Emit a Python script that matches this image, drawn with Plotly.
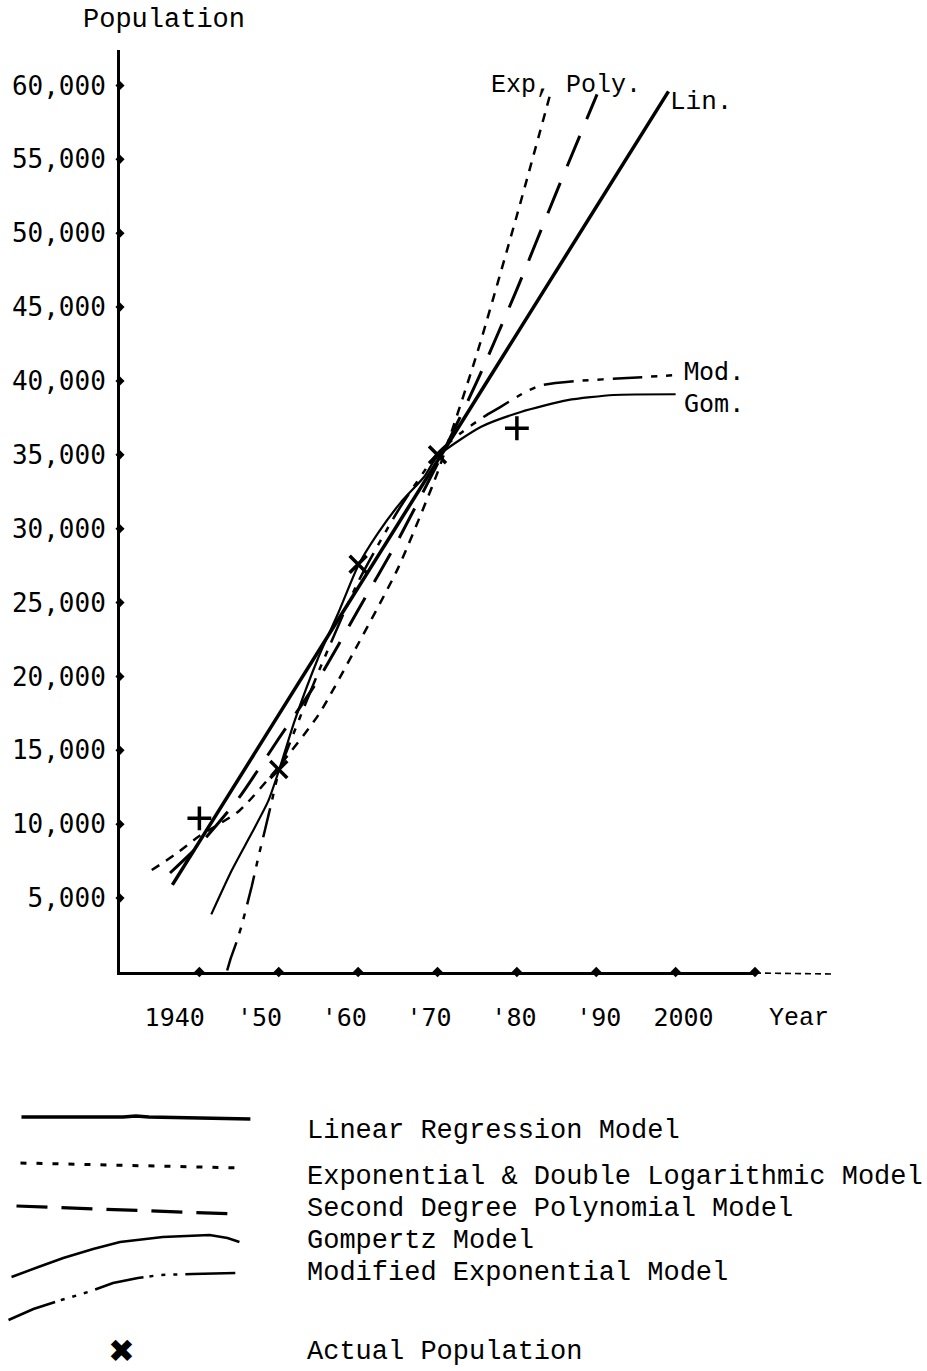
import plotly.graph_objects as go

# ---------------- data ----------------
actual_years = [1940, 1950, 1960, 1970, 1980]
actual_pop = [10400, 13700, 27600, 35000, 36800]

lin_years = [1936.6, 1999.1]
lin_pop = [5900, 59600]

exp_years = [1934.0, 1936.8, 1940, 1945, 1950, 1955, 1960, 1965, 1970, 1975, 1980, 1984.2]
exp_pop = [6900, 7900, 9200, 10900, 13900, 17400, 22200, 27300, 33800, 41900, 51200, 59400]

poly_years = [1936.3, 1940, 1945, 1950, 1955, 1960, 1965, 1970, 1975, 1980, 1985, 1990.1]
poly_pop = [6700, 8600, 11800, 15800, 19800, 24500, 29200, 34400, 40000, 46200, 52800, 59400]

gom_years = [1941.5, 1944.1, 1946.6, 1948.7, 1950, 1952, 1955, 1957.5, 1960, 1962.5,
             1965.4, 1968.3, 1970, 1975.5, 1980.5, 1986.4, 1992.2, 2000]
gom_pop = [3900, 6900, 9400, 11600, 13600, 17000, 21300, 24300, 27500, 29700,
           31800, 33500, 34900, 36900, 37900, 38700, 39050, 39100]

mod_years = [1943.5, 1944.0, 1944.6, 1945.3, 1946.6, 1947.4, 1948.3, 1949.1, 1950, 1955,
             1960, 1965, 1970, 1973, 1975.9, 1977.8, 1980.9, 1983, 1987.6, 1993.9, 2000.2]
mod_pop = [100, 1000, 1900, 3100, 5800, 7700, 9700, 11500, 13500, 20300,
           26400, 31200, 35100, 36500, 37600, 38200, 39200, 39700, 40000, 40200, 40400]

x_tick_vals = [1940, 1950, 1960, 1970, 1980, 1990, 2000]
x_tick_text = ["1940", "'50", "'60", "'70", "'80", "'90", "2000"]
x_dot_vals = [1940, 1950, 1960, 1970, 1980, 1990, 2000, 2010]
y_tick_vals = [5000, 10000, 15000, 20000, 25000, 30000, 35000, 40000, 45000, 50000, 55000, 60000]
y_tick_text = ["5,000", "10,000", "15,000", "20,000", "25,000", "30,000",
               "35,000", "40,000", "45,000", "50,000", "55,000", "60,000"]

legend_labels = ["Linear Regression Model",
                 "Exponential & Double Logarithmic Model",
                 "Second Degree Polynomial Model",
                 "Gompertz Model",
                 "Modified Exponential Model",
                 "Actual Population"]

# ---------------- styles ----------------
marker_symbols = ["cross-thin", "x-thin", "x-thin", "x-thin", "cross-thin"]
MONO_SERIF = "Liberation Mono, Courier New, monospace"
MONO_SANS = "DejaVu Sans Mono, monospace"
BLACK = "black"

# plot area in pixels
L, R, T, B = 117, 755, 50, 972
FIG_W, FIG_H = 927, 1371
# the typed year labels under the axis are spaced a little wider than the ticks
LABEL_AXIS_RANGE = [1933.55, 2008.43]


def pxx(x):
    return (x - L) / (R - L)


def pxy(y):
    return (B - y) / (B - T)


fig = go.Figure()

fig.add_trace(go.Scatter(x=exp_years, y=exp_pop, mode="lines",
                         line=dict(color=BLACK, width=2.5, dash="9px,8px", shape="spline", smoothing=0.6)))
fig.add_trace(go.Scatter(x=poly_years, y=poly_pop, mode="lines",
                         line=dict(color=BLACK, width=3, dash="33px,18px", shape="spline", smoothing=0.6)))
fig.add_trace(go.Scatter(x=mod_years, y=mod_pop, mode="lines",
                         line=dict(color=BLACK, width=2.5, dash="30px,9px,6px,9px,6px,9px",
                                   shape="spline", smoothing=0.6)))
fig.add_trace(go.Scatter(x=gom_years, y=gom_pop, mode="lines",
                         line=dict(color=BLACK, width=2.2, shape="spline", smoothing=0.6)))
fig.add_trace(go.Scatter(x=lin_years, y=lin_pop, mode="lines",
                         line=dict(color=BLACK, width=3.5)))
fig.add_trace(go.Scatter(x=actual_years, y=actual_pop, mode="markers",
                         marker=dict(symbol=marker_symbols, size=17, color=BLACK,
                                     line=dict(color=BLACK, width=3.5))))

# axis tick dots
fig.add_trace(go.Scatter(x=x_dot_vals, y=[0] * len(x_dot_vals), mode="markers", cliponaxis=False,
                         marker=dict(symbol="diamond", size=8, color=BLACK)))
fig.add_trace(go.Scatter(x=[1930] * len(y_tick_vals), y=y_tick_vals, mode="markers", cliponaxis=False,
                         marker=dict(symbol="diamond", size=7, color=BLACK)))
# invisible carrier so that the label axis (x2) is drawn
fig.add_trace(go.Scatter(x=x_tick_vals, y=[0] * len(x_tick_vals), xaxis="x2", yaxis="y",
                         mode="markers", marker=dict(opacity=0), hoverinfo="skip"))

shapes = []
# dashed continuation of the x axis
shapes.append(dict(type="line", xref="paper", yref="paper", x0=1.0, x1=pxx(835), y0=pxy(973), y1=pxy(974),
                   line=dict(color=BLACK, width=1.6, dash="6px,4px")))


def path_from(points):
    return "M " + " L ".join(f"{pxx(a):.5f},{pxy(b):.5f}" for a, b in points)


legend_samples = [
    ([(18, 1117), (120, 1117), (133, 1116), (146, 1117), (248, 1119)], 3.4, "solid"),
    ([(17, 1163), (242, 1168)], 3, "6px,10px"),
    ([(13, 1206), (233, 1214)], 3.2, "31px,14px"),
    ([(8, 1277), (35, 1267), (60, 1258), (90, 1249), (117, 1242), (160, 1237),
      (207, 1235), (225, 1238), (237, 1242)], 2.5, "solid"),
    ([(5, 1320), (30, 1309), (58, 1300), (85, 1292), (110, 1283), (135, 1278),
      (157, 1275), (190, 1274), (233, 1273)], 2.5, "50px,6px,4px,8px,4px,8px,4px,8px"),
]
for pts, w, d in legend_samples:
    shapes.append(dict(type="path", xref="paper", yref="paper", path=path_from(pts),
                       line=dict(color=BLACK, width=w, dash=d)))

annotations = []
legend_text_y = [1131, 1177, 1209, 1241, 1273, 1352]
for lbl, yy in zip(legend_labels, legend_text_y):
    annotations.append(dict(text=lbl, xref="paper", yref="paper", x=pxx(303), y=pxy(yy),
                            xanchor="left", yanchor="middle", showarrow=False,
                            font=dict(family=MONO_SERIF, size=27, color=BLACK)))
annotations.append(dict(text="✖", xref="paper", yref="paper", x=pxx(119), y=pxy(1351),
                        xanchor="center", yanchor="middle", showarrow=False,
                        font=dict(family="DejaVu Sans", size=32, color=BLACK)))

# curve labels and axis titles
annotations += [
    dict(text="Exp, Poly.", x=pxx(565), y=pxy(86), xref="paper", yref="paper", showarrow=False,
         xanchor="center", yanchor="middle", font=dict(family=MONO_SERIF, size=25, color=BLACK)),
    dict(text="Lin.", x=pxx(668), y=pxy(102), xref="paper", yref="paper", showarrow=False,
         xanchor="left", yanchor="middle", font=dict(family=MONO_SERIF, size=26, color=BLACK)),
    dict(text="Mod.", x=pxx(682), y=pxy(371), xref="paper", yref="paper", showarrow=False,
         xanchor="left", yanchor="middle", font=dict(family=MONO_SANS, size=25, color=BLACK)),
    dict(text="Gom.", x=pxx(682), y=pxy(403), xref="paper", yref="paper", showarrow=False,
         xanchor="left", yanchor="middle", font=dict(family=MONO_SANS, size=25, color=BLACK)),
    dict(text="Year", x=pxx(799), y=pxy(1018), xref="paper", yref="paper", showarrow=False,
         xanchor="center", yanchor="middle", font=dict(family=MONO_SERIF, size=25, color=BLACK)),
    dict(text="Population", x=pxx(161), y=pxy(20), xref="paper", yref="paper", showarrow=False,
         xanchor="center", yanchor="middle", font=dict(family=MONO_SERIF, size=27, color=BLACK)),
]

fig.update_layout(
    width=FIG_W, height=FIG_H,
    margin=dict(l=L, r=FIG_W - R, t=T, b=FIG_H - B, pad=0),
    paper_bgcolor="white", plot_bgcolor="white",
    showlegend=False,
    shapes=shapes, annotations=annotations,
    xaxis=dict(range=[1930, 2010], showticklabels=False,
               showgrid=False, zeroline=False, showline=True, linecolor=BLACK, linewidth=3,
               ticks=""),
    xaxis2=dict(range=LABEL_AXIS_RANGE, overlaying="x", side="bottom", anchor="y",
                tickmode="array", tickvals=x_tick_vals, ticktext=x_tick_text,
                showgrid=False, zeroline=False, showline=False, ticks="",
                ticklabelstandoff=28,
                tickfont=dict(family=MONO_SANS, size=25, color=BLACK)),
    yaxis=dict(range=[0, 62400], tickmode="array", tickvals=y_tick_vals, ticktext=y_tick_text,
               showgrid=False, zeroline=False, showline=True, linecolor=BLACK, linewidth=3,
               ticks="", ticklabelstandoff=6,
               tickfont=dict(family=MONO_SANS, size=26, color=BLACK)),
)

fig.write_html("out.html")
